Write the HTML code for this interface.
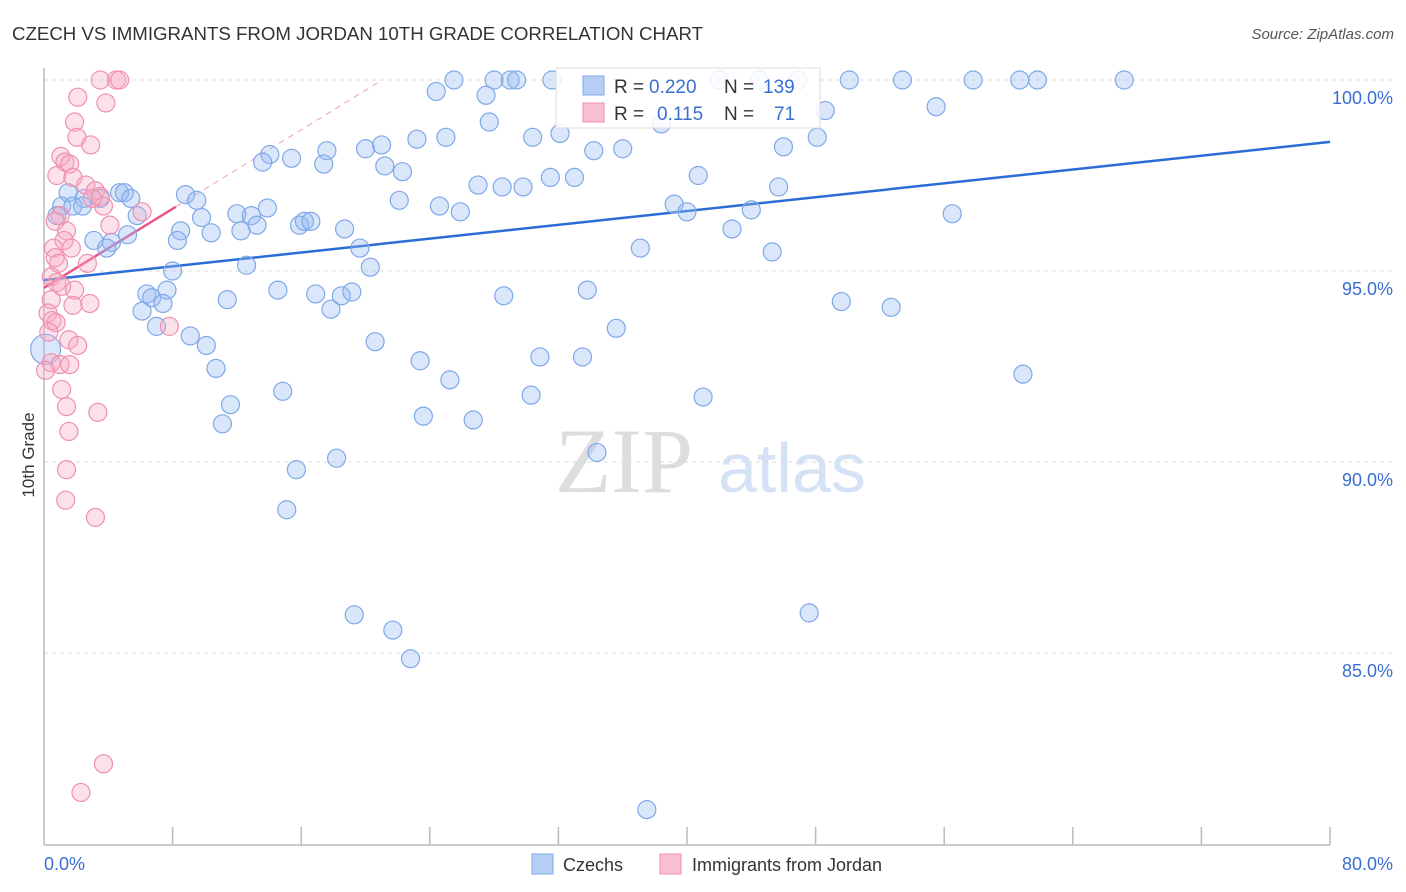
<!DOCTYPE html>
<html><head><meta charset="utf-8"><style>
body{margin:0;background:#fff;}
svg{display:block;font-family:"Liberation Sans",sans-serif;}
</style></head><body>
<svg id="chart" width="1406" height="892" viewBox="0 0 1406 892" xmlns="http://www.w3.org/2000/svg">
<text x="12" y="40" font-size="18" fill="#333" textLength="691" lengthAdjust="spacingAndGlyphs">CZECH VS IMMIGRANTS FROM JORDAN 10TH GRADE CORRELATION CHART</text>
<text x="1394" y="39" font-size="15" fill="#555" text-anchor="end" font-style="italic">Source: ZipAtlas.com</text>
<text transform="translate(34,455) rotate(-90)" font-size="17" fill="#333" text-anchor="middle">10th Grade</text>
<g>
<text x="555" y="492" font-size="92" fill="#ddd" font-family="Liberation Serif,serif">ZIP</text>
<text x="718" y="492" font-size="70" fill="#d5e2f5">atlas</text>
</g>
<g id="grid"></g>
<g id="axes"></g>
<g id="lines"></g>
<g id="pts"></g>
<g>
<rect x="556" y="68" width="264" height="60" fill="#fff" fill-opacity="0.85" stroke="#ddd"/>
<rect x="583" y="76" width="21" height="19" fill="#b7cff5" stroke="#7fa8e8"/>
<text x="614" y="93" font-size="19" fill="#333">R = </text><text x="649" y="93" font-size="19" fill="#3a6fd1">0.220</text>
<text x="724" y="93" font-size="19" fill="#333">N = </text><text x="763" y="93" font-size="19" fill="#3a6fd1">139</text>
<rect x="583" y="103" width="21" height="19" fill="#f8c0d0" stroke="#f090b0"/>
<text x="614" y="120" font-size="19" fill="#333">R = </text><text x="657" y="120" font-size="19" fill="#3a6fd1">0.115</text>
<text x="724" y="120" font-size="19" fill="#333">N = </text><text x="774" y="120" font-size="19" fill="#3a6fd1">71</text>
</g>
<g>
<rect x="532" y="854" width="21" height="20" fill="#b7cff5" stroke="#7fa8e8"/>
<text x="563" y="871" font-size="18" fill="#333">Czechs</text>
<rect x="660" y="854" width="21" height="20" fill="#f8c0d0" stroke="#f090b0"/>
<text x="692" y="871" font-size="18" fill="#333">Immigrants from Jordan</text>
</g>
</svg>
<script>
const yTicks=[100,95,90,85];
const yTickLabels=["100.0%","95.0%","90.0%","85.0%"];
const xTickLabels=["0.0%","80.0%"];
const blueX=[24.4,25.5,28.0,29.0,29.4,31.6,42.0,44.5,46.9,50.1,53.4,57.8,60.7,61.8,67.2,27.5,55.5,48.6,27.7,38.4,32.1,23.2,25.0,30.4,48.1,20.0,21.0,17.6,34.2,36.0,46.0,14.05,15.4,13.6,17.4,21.2,22.3,31.5,33.0,40.7,27.0,28.5,29.8,45.7,8.8,9.5,1.5,2.5,3.5,4.7,5.0,5.4,1.1,1.8,2.4,0.8,5.8,9.8,12.0,12.9,13.9,13.25,22.1,24.6,25.9,39.2,40.0,44.0,56.5,42.8,15.9,16.2,16.6,18.7,10.4,8.5,12.25,5.2,3.1,4.2,3.9,8.3,19.65,37.1,45.3,12.6,20.3,8.0,6.4,6.7,7.65,6.1,7.4,11.4,14.55,16.9,18.5,19.15,17.85,28.6,33.8,49.6,52.7,7.0,9.1,10.1,35.6,20.6,30.85,33.5,23.4,10.7,25.25,60.9,14.85,30.3,41.0,11.6,11.1,23.6,26.7,34.4,18.2,15.7,15.1,19.3,21.7,22.8,47.6,37.5,0.1];
const blueY=[99.7,100,100,100,100,100,100,100,100,100,100,100,100,100,100,99.6,99.3,99.2,98.9,98.85,98.6,98.45,98.5,98.5,98.5,98.2,98.3,98.15,98.15,98.2,98.25,98.05,97.95,97.85,97.8,97.75,97.6,97.45,97.45,97.5,97.25,97.2,97.2,97.2,97.0,96.85,97.05,96.9,96.9,97.05,97.05,96.9,96.7,96.7,96.7,96.45,96.45,96.4,96.5,96.45,96.65,96.2,96.85,96.7,96.55,96.75,96.55,96.6,96.5,96.1,96.2,96.3,96.3,96.1,96.0,96.05,96.05,95.95,95.8,95.75,95.6,95.8,95.6,95.6,95.5,95.15,95.1,95.0,94.4,94.3,94.5,93.95,94.15,94.25,94.5,94.4,94.35,94.45,94.0,94.35,94.5,94.2,94.05,93.55,93.3,93.05,93.5,93.15,92.75,92.75,92.65,92.45,92.15,92.3,91.85,91.75,91.7,91.5,91.0,91.2,91.1,90.25,90.1,89.8,88.75,86.0,85.6,84.85,86.05,80.9,92.95];
const pinkX=[3.5,4.5,4.7,2.1,3.85,1.9,2.05,2.9,1.05,1.3,1.6,0.8,1.8,2.6,3.2,3.5,3.7,3.0,6.1,4.1,1.0,0.7,1.4,1.25,0.6,1.7,0.7,0.9,2.7,0.45,0.8,1.1,1.9,0.45,1.8,2.85,0.25,0.5,0.75,7.8,1.55,2.1,0.45,1.0,1.6,1.1,1.4,3.35,1.55,1.4,1.35,3.2,3.7,2.3,0.1,0.3];
const pinkY=[100,100,100,99.55,99.4,98.9,98.5,98.3,98.0,97.85,97.8,97.5,97.45,97.25,97.1,96.95,96.7,96.9,96.55,96.2,96.45,96.3,96.05,95.8,95.6,95.6,95.35,95.2,95.2,94.85,94.7,94.6,94.5,94.25,94.1,94.15,93.9,93.7,93.65,93.55,93.2,93.05,92.6,92.55,92.55,91.9,91.45,91.3,90.8,89.8,89.0,88.55,82.1,81.35,92.4,93.4];
const blueFit=[94.76,98.38];
const pinkFit=[94.56,96.68];
const pinkSolidEnd=8.2;

const NS="http://www.w3.org/2000/svg";
const X0=44,X1=1330,YTOP=80,PXPER=38.2;
function sx(v){return X0+(X1-X0)*v/80;}
function sy(v){return YTOP+(100-v)*PXPER;}
function mk(tag,attrs,parent){const e=document.createElementNS(NS,tag);for(const k in attrs)e.setAttribute(k,attrs[k]);parent.appendChild(e);return e;}
const grid=document.getElementById('grid'),axes=document.getElementById('axes'),lines=document.getElementById('lines'),pts=document.getElementById('pts');
yTicks.forEach((t,i)=>{
  const l=mk('line',{x1:X0,x2:1392,y1:sy(t),y2:sy(t),stroke:'#ddd','stroke-dasharray':'4,4'},grid);
  
  
  const tx=mk('text',{x:1393,y:sy(t)+24,'font-size':18,fill:'#3a6fd1','text-anchor':'end'},axes);
  tx.textContent=yTickLabels[i];
  
  
});
let a=mk('line',{x1:X0,x2:X0,y1:68,y2:845,stroke:'#bbb','stroke-width':1.5},axes);


a=mk('line',{x1:X0,x2:X1,y1:845,y2:845,stroke:'#bbb','stroke-width':1.5},axes);


for(let i=1;i<=10;i++){
  const t=mk('line',{x1:sx(i*8),x2:sx(i*8),y1:827,y2:845,stroke:'#bbb','stroke-width':1.5},axes);
  
  
}
let xl=mk('text',{x:44,y:870,'font-size':18,fill:'#3a6fd1'},axes);xl.textContent=xTickLabels[0];


xl=mk('text',{x:1393,y:870,'font-size':18,fill:'#3a6fd1','text-anchor':'end'},axes);xl.textContent=xTickLabels[1];



blueX.forEach((x,i)=>{
  const r=(i===blueX.length-1)?15:9;
  const c=mk('circle',{cx:sx(x),cy:sy(blueY[i]),r:r,fill:'rgba(150,185,240,0.35)',stroke:'#7fa8e8','stroke-width':1.2},pts);
  
  
});
pinkX.forEach((x,i)=>{
  const c=mk('circle',{cx:sx(x),cy:sy(pinkY[i]),r:9,fill:'rgba(245,170,195,0.35)',stroke:'#f090b0','stroke-width':1.2},pts);
  
  
});
let ln=mk('line',{x1:sx(0),y1:sy(blueFit[0]),x2:sx(80),y2:sy(blueFit[1]),stroke:'#2a6dd6','stroke-width':2.5},lines);


const slope=(pinkFit[1]-pinkFit[0])/pinkSolidEnd;
const xEnd=(100-pinkFit[0])/slope;
ln=mk('line',{x1:sx(pinkSolidEnd),y1:sy(pinkFit[1]),x2:sx(xEnd),y2:sy(100),stroke:'#f0a0b8','stroke-width':1,'stroke-dasharray':'6,5'},lines);


ln=mk('line',{x1:sx(0),y1:sy(pinkFit[0]),x2:sx(pinkSolidEnd),y2:sy(pinkFit[1]),stroke:'#e8578a','stroke-width':2.5},lines);


</script>
</body></html>
